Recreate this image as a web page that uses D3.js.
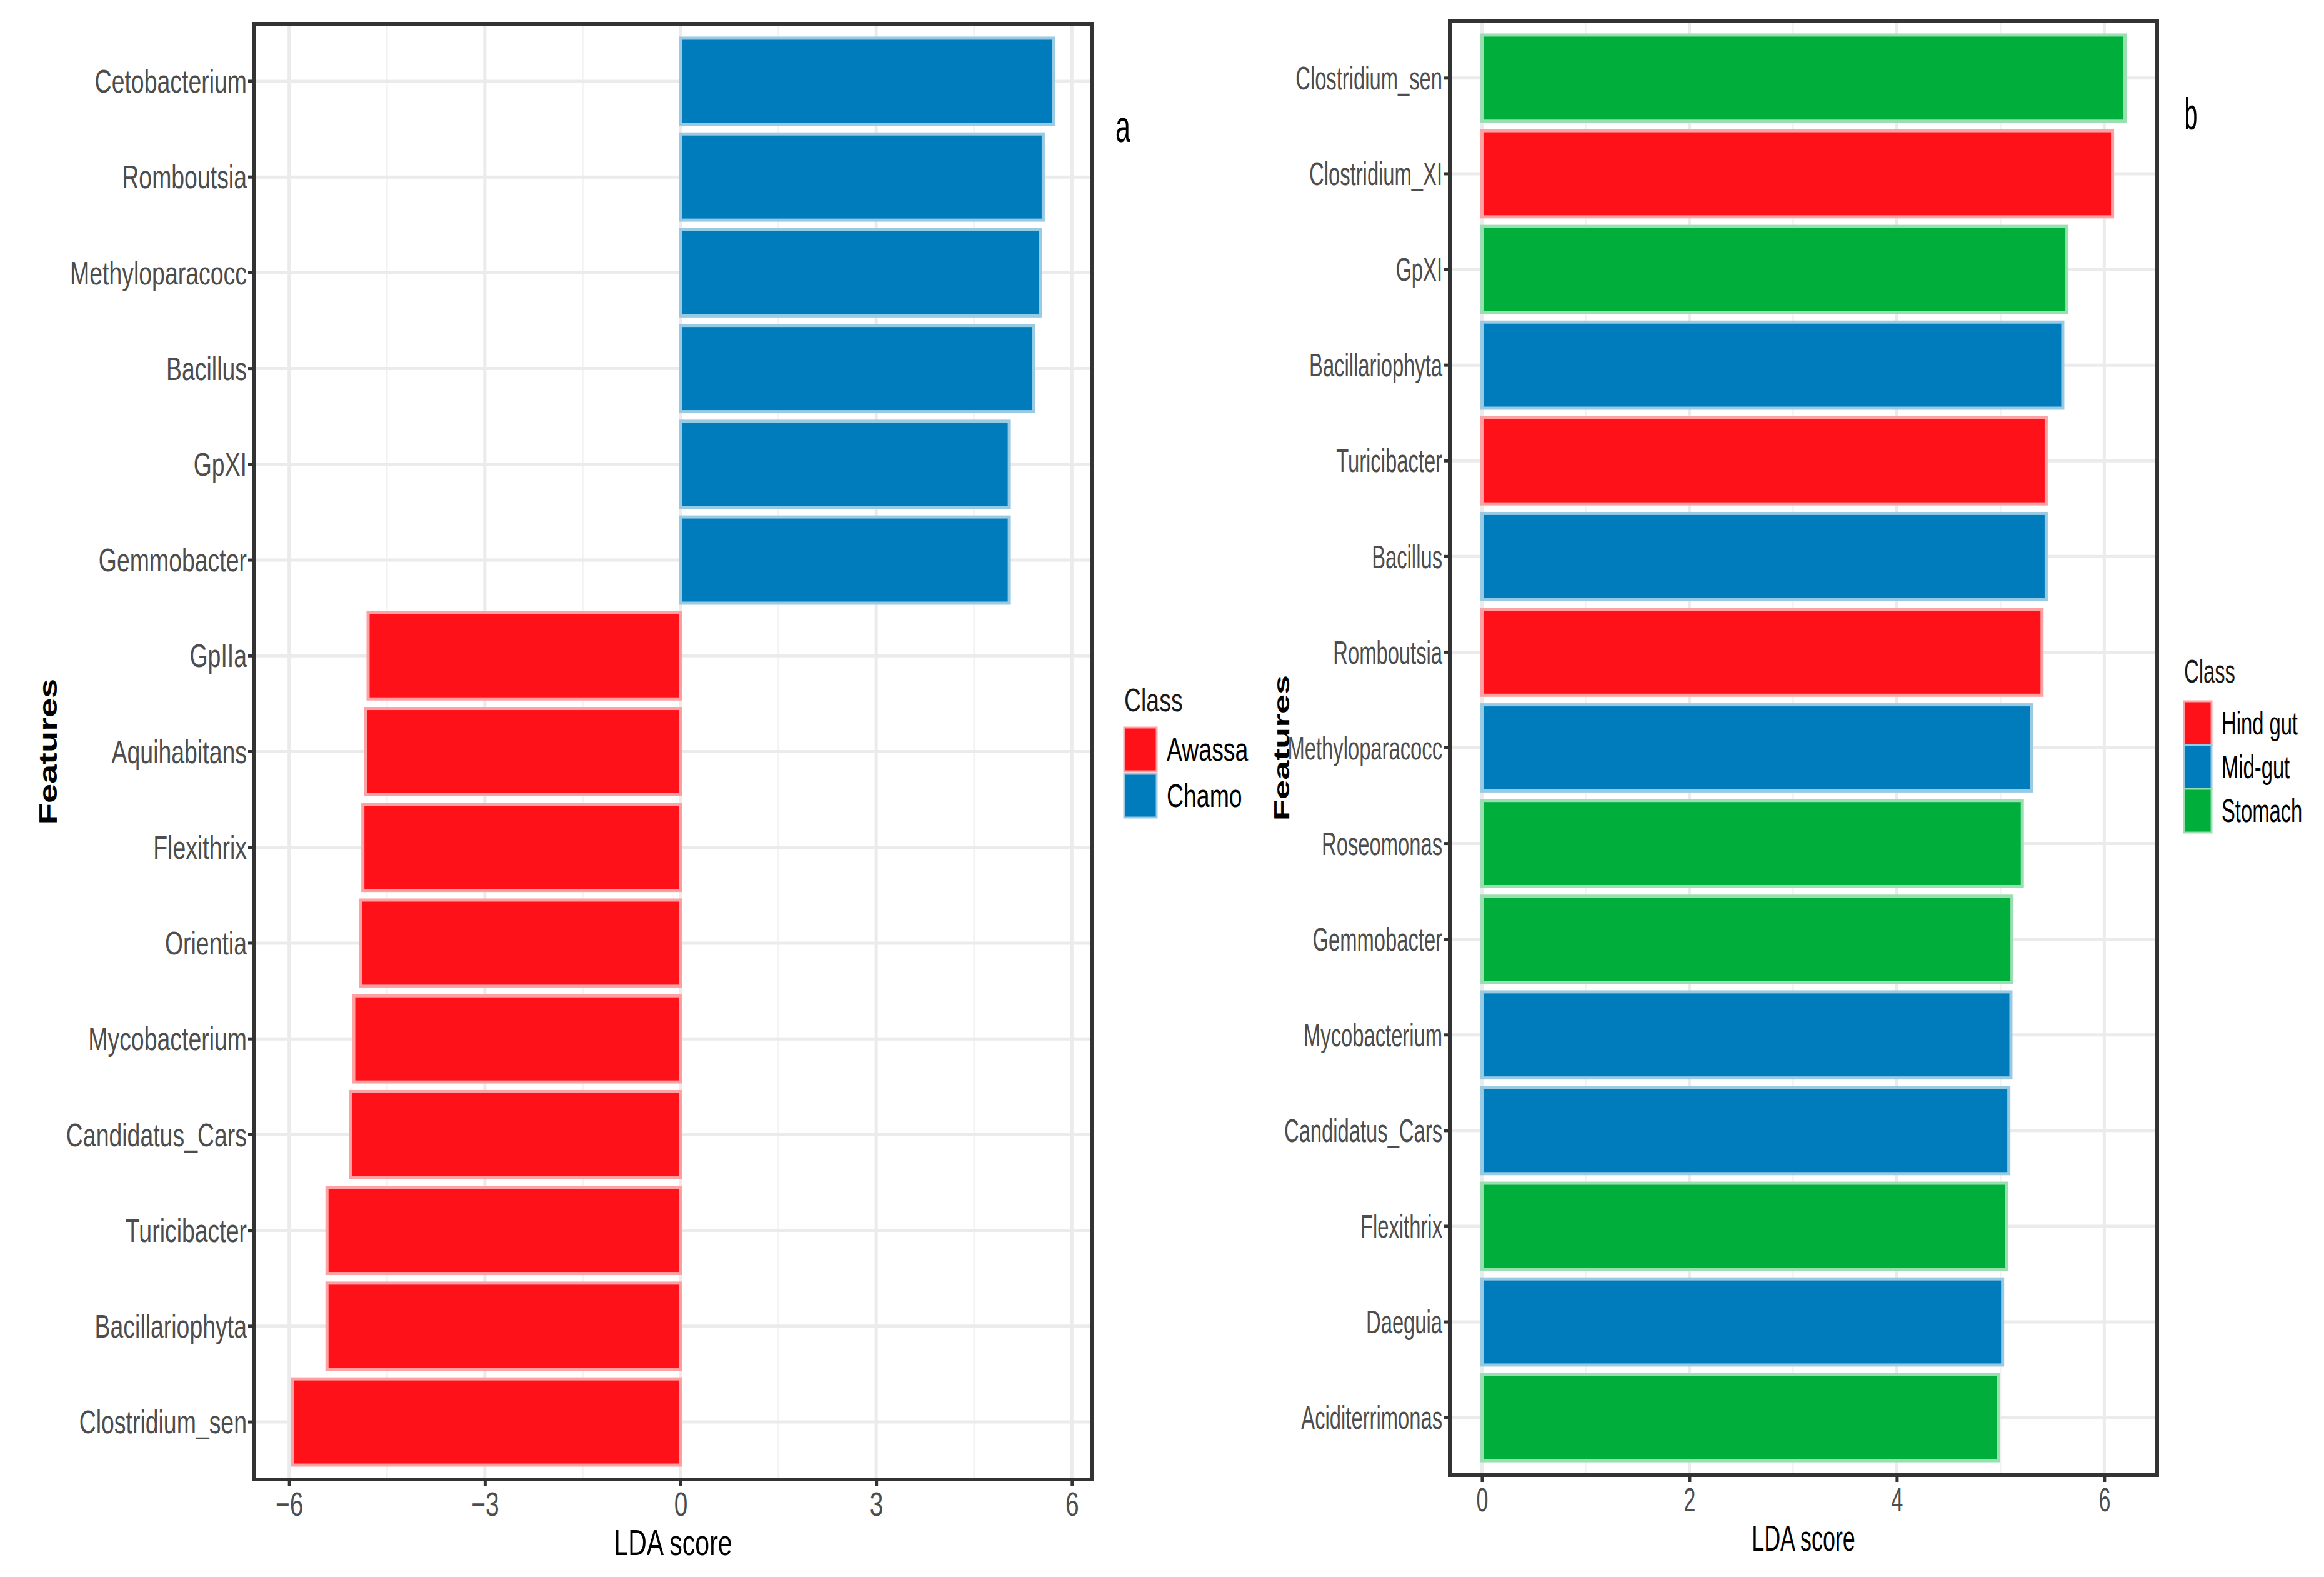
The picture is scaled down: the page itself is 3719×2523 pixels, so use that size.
<!DOCTYPE html>
<html>
<head>
<meta charset="utf-8">
<script src="https://cdn.jsdelivr.net/npm/d3@7"></script>
<style>
  html, body { margin: 0; padding: 0; background: #fff; }
  text { font-family: 'Liberation Sans', Arial, sans-serif; }
</style>
</head>
<body>
<svg id="chart"></svg>
<script>
// panel a: Awassa vs Chamo
var featuresA = ['Cetobacterium', 'Romboutsia', 'Methyloparacocc', 'Bacillus', 'GpXI', 'Gemmobacter',
  'GpIIa', 'Aquihabitans', 'Flexithrix', 'Orientia', 'Mycobacterium', 'Candidatus_Cars',
  'Turicibacter', 'Bacillariophyta', 'Clostridium_sen'];
var scoresA = [5.72, 5.56, 5.52, 5.41, 5.04, 5.04,
  -4.79, -4.83, -4.87, -4.90, -5.01, -5.06, -5.42, -5.42, -5.95];
var classA = ['Chamo', 'Chamo', 'Chamo', 'Chamo', 'Chamo', 'Chamo',
  'Awassa', 'Awassa', 'Awassa', 'Awassa', 'Awassa', 'Awassa', 'Awassa', 'Awassa', 'Awassa'];
var legendA = ['Awassa', 'Chamo'];
var ticksA = [-6, -3, 0, 3, 6];

// panel b: gut sections
var featuresB = ['Clostridium_sen', 'Clostridium_XI', 'GpXI', 'Bacillariophyta', 'Turicibacter', 'Bacillus',
  'Romboutsia', 'Methyloparacocc', 'Roseomonas', 'Gemmobacter', 'Mycobacterium', 'Candidatus_Cars',
  'Flexithrix', 'Daeguia', 'Aciditerrimonas'];
var scoresB = [6.20, 6.08, 5.64, 5.60, 5.44, 5.44, 5.40, 5.30, 5.21, 5.11, 5.10, 5.08, 5.06, 5.02, 4.98];
var classB = ['Stomach', 'Hind gut', 'Stomach', 'Mid-gut', 'Hind gut', 'Mid-gut',
  'Hind gut', 'Mid-gut', 'Stomach', 'Stomach', 'Mid-gut', 'Mid-gut', 'Stomach', 'Mid-gut', 'Stomach'];
var legendB = ['Hind gut', 'Mid-gut', 'Stomach'];
var ticksB = [0, 2, 4, 6];

var colors = {
  'Awassa': '#fe1119', 'Chamo': '#007bbb',
  'Hind gut': '#fe1119', 'Mid-gut': '#007bbb', 'Stomach': '#00ae3c'
};

var width = 3719;
var height = 2523;

var svg = d3.select('#chart')
  .attr('width', width)
  .attr('height', height);

svg.append('rect').attr('width', width).attr('height', height).attr('fill', '#fff');

// the source figure is squeezed horizontally, so text gets a narrow x scale
drawPanel({
  features: featuresA, scores: scoresA, classes: classA, legend: legendA, ticks: ticksA,
  left: 407, right: 1747, top: 38, bottom: 2367, sx: 0.72,
  featuresX: 91, tag: 'a', tagX: 1797, tagY: 227, tagSx: 0.6,
  legendX: 1799, legendTitleY: 1138, legendY: 1164, keyW: 52, keyH: 70, keyGap: 4
});

drawPanel({
  features: featuresB, scores: scoresB, classes: classB, legend: legendB, ticks: ticksB,
  left: 2320, right: 3452, top: 33, bottom: 2360, sx: 0.63,
  featuresX: 2063, tag: 'b', tagX: 3506, tagY: 207, tagSx: 0.52,
  legendX: 3495, legendTitleY: 1092, legendY: 1122, keyW: 44, keyH: 70, keyGap: 0
});

function drawPanel(p) {
  var g = svg.append('g');

  var lo = Math.min(0, d3.min(p.scores));
  var hi = Math.max(0, d3.max(p.scores));
  var pad = (hi - lo) * 0.05;

  var x = d3.scaleLinear()
    .domain([lo - pad, hi + pad])
    .range([p.left, p.right]);

  var y = d3.scaleBand()
    .domain(p.features)
    .range([p.top, p.bottom])
    .paddingInner(0.1)
    .paddingOuter(0.15);

  // minor grid halfway between major ticks
  var minor = [];
  for (var i = 0; i < p.ticks.length - 1; i++) {
    minor.push((p.ticks[i] + p.ticks[i + 1]) / 2);
  }

  g.selectAll('.minor')
    .data(minor)
    .enter().append('line')
    .attr('x1', function(d) { return x(d); })
    .attr('x2', function(d) { return x(d); })
    .attr('y1', p.top)
    .attr('y2', p.bottom)
    .attr('stroke', '#f2f2f2')
    .attr('stroke-width', 2.5);

  g.selectAll('.vmajor')
    .data(p.ticks)
    .enter().append('line')
    .attr('x1', function(d) { return x(d); })
    .attr('x2', function(d) { return x(d); })
    .attr('y1', p.top)
    .attr('y2', p.bottom)
    .attr('stroke', '#ebebeb')
    .attr('stroke-width', 5);

  g.selectAll('.hmajor')
    .data(p.features)
    .enter().append('line')
    .attr('x1', p.left)
    .attr('x2', p.right)
    .attr('y1', function(d) { return y(d) + y.bandwidth() / 2; })
    .attr('y2', function(d) { return y(d) + y.bandwidth() / 2; })
    .attr('stroke', '#ebebeb')
    .attr('stroke-width', 5);

  g.selectAll('.bar')
    .data(p.features)
    .enter().append('rect')
    .attr('x', function(d, i) { return x(Math.min(0, p.scores[i])); })
    .attr('width', function(d, i) { return Math.abs(x(p.scores[i]) - x(0)); })
    .attr('y', function(d) { return y(d); })
    .attr('height', y.bandwidth())
    .attr('fill', function(d, i) { return colors[p.classes[i]]; })
    .attr('stroke', function(d, i) { return d3.interpolateRgb(colors[p.classes[i]], '#fff')(0.6); })
    .attr('stroke-width', 5);

  // panel border
  g.append('rect')
    .attr('x', p.left)
    .attr('y', p.top)
    .attr('width', p.right - p.left)
    .attr('height', p.bottom - p.top)
    .attr('fill', 'none')
    .attr('stroke', '#333')
    .attr('stroke-width', 6);

  var yAxis = g.append('g')
    .attr('transform', 'translate(' + p.left + ',0)')
    .call(d3.axisLeft(y).tickSize(10).tickPadding(0));
  yAxis.select('.domain').remove();
  yAxis.selectAll('line').attr('stroke', '#333').attr('stroke-width', 5);
  yAxis.selectAll('text')
    .attr('x', -12 / p.sx)
    .attr('dy', '0.35em')
    .attr('transform', 'scale(' + p.sx + ',1)')
    .attr('fill', '#4d4d4d')
    .style('font-size', '52px')
    .style('font-family', "'Liberation Sans', Arial, sans-serif");

  var xAxis = g.append('g')
    .attr('transform', 'translate(0,' + p.bottom + ')')
    .call(d3.axisBottom(x).tickValues(p.ticks).tickFormat(d3.format('d')).tickSize(11).tickPadding(0));
  xAxis.select('.domain').remove();
  xAxis.selectAll('line').attr('stroke', '#333').attr('stroke-width', 5);
  xAxis.selectAll('text')
    .attr('y', 58)
    .attr('dy', 0)
    .attr('transform', 'scale(' + p.sx + ',1)')
    .attr('fill', '#4d4d4d')
    .style('font-size', '54px')
    .style('font-family', "'Liberation Sans', Arial, sans-serif");

  // axis titles
  g.append('text')
    .attr('transform', 'translate(' + (p.left + p.right) / 2 + ',' + (p.bottom + 121) + ') scale(' + p.sx + ',1)')
    .attr('text-anchor', 'middle')
    .attr('fill', '#000')
    .style('font-size', '57px')
    .text('LDA score');

  g.append('text')
    .attr('transform', 'translate(' + p.featuresX + ',' + (p.top + p.bottom) / 2 + ') scale(' + p.sx + ',1) rotate(-90)')
    .attr('text-anchor', 'middle')
    .attr('fill', '#000')
    .style('font-size', '56px')
    .style('font-weight', 'bold')
    .text('Features');

  g.append('text')
    .attr('transform', 'translate(' + p.tagX + ',' + p.tagY + ') scale(' + p.tagSx + ',1)')
    .attr('text-anchor', 'middle')
    .attr('fill', '#000')
    .style('font-size', '72px')
    .text(p.tag);

  // legend
  g.append('text')
    .attr('transform', 'translate(' + p.legendX + ',' + p.legendTitleY + ') scale(' + p.sx + ',1)')
    .attr('fill', '#1a1a1a')
    .style('font-size', '52px')
    .text('Class');

  var keys = g.selectAll('.key')
    .data(p.legend)
    .enter().append('g')
    .attr('transform', function(d, i) {
      return 'translate(' + p.legendX + ',' + (p.legendY + i * (p.keyH + p.keyGap)) + ')';
    });

  keys.append('rect')
    .attr('width', p.keyW)
    .attr('height', p.keyH)
    .attr('fill', function(d) { return colors[d]; })
    .attr('stroke', function(d) { return d3.interpolateRgb(colors[d], '#fff')(0.6); })
    .attr('stroke-width', 3);

  keys.append('text')
    .attr('transform', 'translate(' + (p.keyW + 16) + ',' + (p.keyH / 2 + 18) + ') scale(' + p.sx + ',1)')
    .attr('fill', '#000')
    .style('font-size', '52px')
    .text(function(d) { return d; });
}
</script>
</body>
</html>
